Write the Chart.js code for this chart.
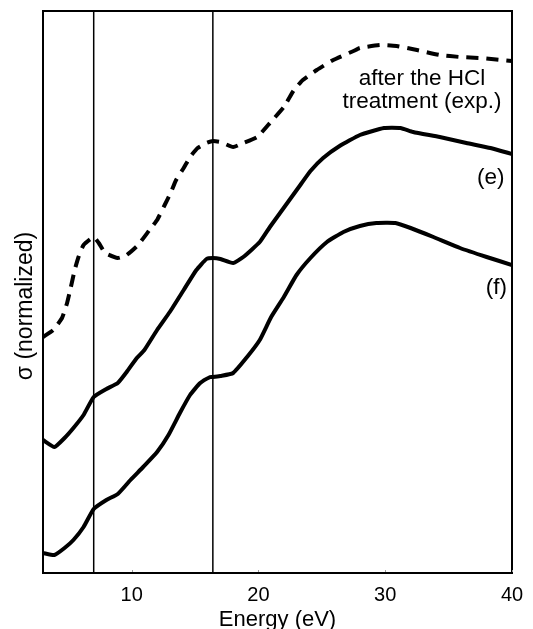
<!DOCTYPE html>
<html><head><meta charset="utf-8">
<script src="https://cdn.jsdelivr.net/npm/chart.js@4/dist/chart.umd.min.js"></script>
<style>html,body{margin:0;padding:0;background:#fff;}#wrap{width:533px;height:629px;}</style>
</head><body><div id="wrap"><canvas id="c" width="533" height="629"></canvas></div>
<script>
// Energy axis ticks (eV)
const xTicks = [10, 20, 30, 40];
// vertical marker lines (eV)
const markerEnergies = [7.0, 16.4];

// experimental: after the HCl treatment (dashed)
const expEnergy = [3.0,3.8,4.5,4.9,5.2,5.5,5.8,6.2,7.0,7.4,7.9,8.9,9.6,10.5,11.4,12.0,12.6,13.1,13.5,14.1,14.6,15.2,15.9,16.4,17.0,18.0,18.8,19.9,20.9,22.0,22.8,23.5,24.6,25.9,27.5,28.0,29.6,30.9,32.5,34.3,35.9,37.5,40.0];
const expSigma  = [236,243,255,270,286,303,316,328,336,330,320,315,318,328,343,353,368,381,393,405,416,425,430,432,431,426,430,436,450,466,483,493,503,513,522,525,528,527,523,518,516,515,512];

// calculated (e)
const eEnergy = [3.0,3.9,4.7,5.4,6.2,7.0,8.0,8.9,9.6,10.4,11.0,12.0,13.0,14.1,15.1,15.9,16.4,17.0,18.0,18.8,20.1,20.9,21.7,22.5,23.3,24.1,25.1,26.4,28.0,29.9,31.2,32.2,34.3,36.4,38.3,40.0];
const eSigma  = [133,126,135,145,158,176,184,190,201,215,223,243,261,283,303,314,315,314,310,316,331,346,360,374,388,402,415,427,438,445,445,441,436,430,425,419];

// calculated (f)
const fEnergy = [3.0,3.9,4.7,5.4,6.2,7.0,8.0,8.9,9.9,10.9,12.0,12.9,13.8,14.6,15.4,16.2,16.4,17.0,18.0,19.1,20.1,21.0,22.0,23.0,24.1,25.4,26.7,28.0,29.3,30.8,32.0,33.8,35.9,38.0,40.0];
const fSigma  = [20,18,25,33,46,64,73,79,93,106,121,138,160,178,190,196,196,197,200,216,233,256,276,298,315,331,341,347,350,350,345,336,325,316,308];

const sigmaRange = [0, 562];

// curve labels: text lines, anchored in data coordinates
const labelLines = [
  {text: 'after the HCl',      x: 32.9, y: 488, align: 'center'},
  {text: 'treatment (exp.)',   x: 32.9, y: 465, align: 'center'},
  {text: '(e)',                x: 39.4, y: 389, align: 'right'},
  {text: '(f)',                x: 39.6, y: 279, align: 'right'}
];
const yTitle = 'σ (normalized)';

const FONT = "'Liberation Sans', Arial, Helvetica, sans-serif";
const toXY = (xs, ys) => xs.map((x, i) => ({x: x, y: ys[i]}));

const datasets = [
  {data: toXY(expEnergy, expSigma), borderColor: '#000', borderWidth: 4, borderDash: [12, 8], tension: 0.15},
  {data: toXY(eEnergy, eSigma), borderColor: '#000', borderWidth: 4, tension: 0.15},
  {data: toXY(fEnergy, fSigma), borderColor: '#000', borderWidth: 4, tension: 0.15}
];
markerEnergies.forEach(e => datasets.push({
  data: [{x: e, y: sigmaRange[0]}, {x: e, y: sigmaRange[1]}],
  borderColor: '#000', borderWidth: 1.5, tension: 0
}));

const framePlugin = {
  id: 'frame',
  afterDatasetsDraw(chart) {
    const {ctx, chartArea: a, scales} = chart;
    ctx.save();
    ctx.strokeStyle = '#000';
    ctx.lineWidth = 2;
    ctx.strokeRect(a.left, a.top, a.right - a.left, a.bottom - a.top);
    // small inward tick marks
    ctx.strokeStyle = '#999';
    ctx.lineWidth = 1;
    xTicks.forEach(v => {
      const px = Math.round(scales.x.getPixelForValue(v)) + 0.5;
      ctx.beginPath();
      ctx.moveTo(px, a.bottom - 1);
      ctx.lineTo(px, a.bottom - 3);
      ctx.stroke();
    });
    ctx.fillStyle = '#000';
    ctx.font = '22.5px ' + FONT;
    ctx.textBaseline = 'alphabetic';
    labelLines.forEach(l => {
      ctx.textAlign = l.align;
      ctx.fillText(l.text, scales.x.getPixelForValue(l.x), scales.y.getPixelForValue(l.y));
    });
    // y-axis title
    ctx.save();
    ctx.font = '23px ' + FONT;
    ctx.textAlign = 'center';
    ctx.textBaseline = 'middle';
    ctx.translate(a.left - 17, (a.top + a.bottom) / 2 + 14);
    ctx.rotate(-Math.PI / 2);
    ctx.fillText(yTitle, 0, 0);
    ctx.restore();
    ctx.restore();
  }
};

new Chart(document.getElementById('c'), {
  type: 'scatter',
  data: {datasets},
  options: {
    responsive: false,
    devicePixelRatio: 1,
    animation: false,
    showLine: true,
    elements: {point: {radius: 0, hoverRadius: 0}, line: {fill: false}},
    layout: {padding: {left: 0, right: 21, top: 11, bottom: 0}},
    plugins: {legend: {display: false}, tooltip: {enabled: false}},
    scales: {
      x: {
        type: 'linear', min: 3, max: 40,
        afterBuildTicks: s => { s.ticks = xTicks.map(v => ({value: v})); },
        afterFit: s => { s.height = 56; },
        grid: {display: false},
        border: {display: false},
        ticks: {color: '#000', font: {family: FONT, size: 20}, padding: 2, maxRotation: 0},
        title: {display: true, text: 'Energy (eV)', color: '#000', font: {family: FONT, size: 22}, padding: {top: 0, bottom: -4}}
      },
      y: {
        type: 'linear', min: sigmaRange[0], max: sigmaRange[1],
        afterFit: s => { s.width = 43; },
        grid: {display: false},
        border: {display: false},
        ticks: {display: false},
        title: {display: false}
      }
    }
  },
  plugins: [framePlugin]
});
</script>
</body></html>
